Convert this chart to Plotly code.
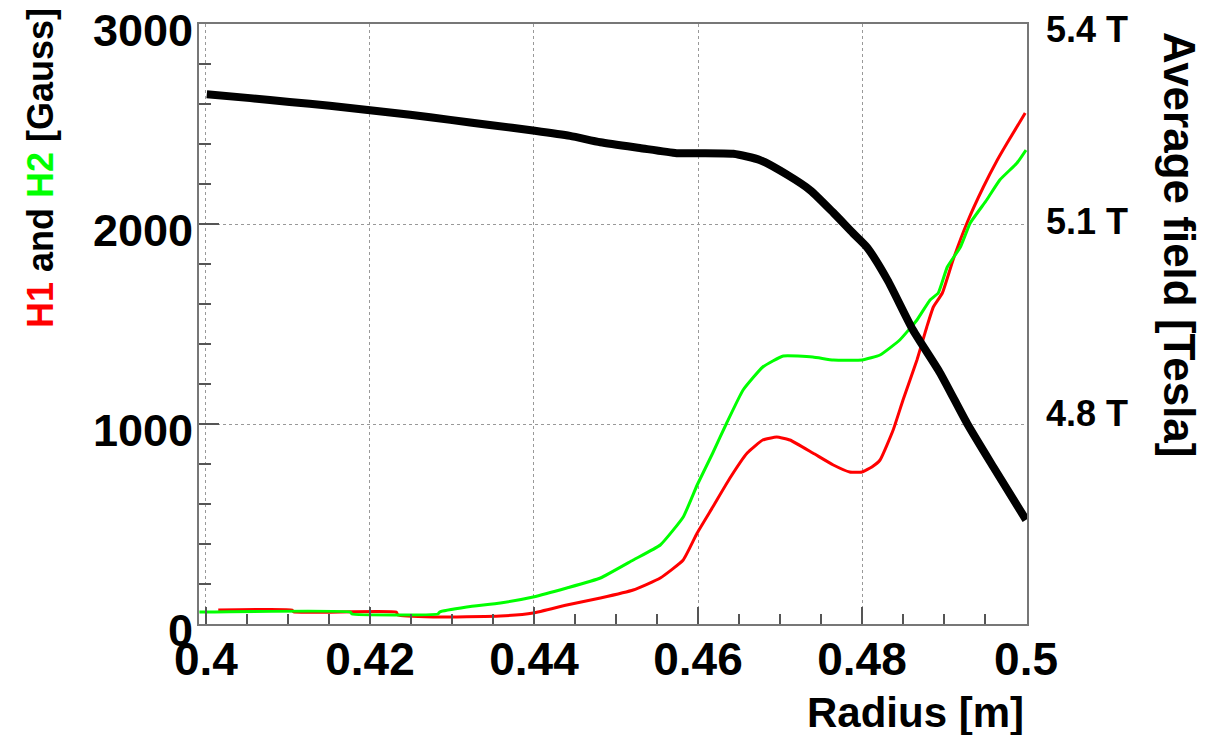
import plotly.graph_objects as go

# Average field (Tesla) vs radius
field_r = [0.4001, 0.4054, 0.4102, 0.4151, 0.4200, 0.4249, 0.4298, 0.4346, 0.4401,
           0.4444, 0.4481, 0.4529, 0.4574, 0.4599, 0.4643, 0.4676, 0.4709, 0.4737,
           0.4765, 0.4789, 0.4806, 0.4831, 0.4862, 0.4895, 0.4928, 0.4960, 0.5000]
field_t = [5.298, 5.292, 5.286, 5.280, 5.273, 5.266, 5.258, 5.250, 5.241,
           5.233, 5.223, 5.214, 5.206, 5.206, 5.205, 5.195, 5.172, 5.148,
           5.113, 5.081, 5.059, 5.008, 4.930, 4.863, 4.784, 4.716, 4.633]

# H2 (Gauss)
h2_r = [0.3992, 0.4176, 0.4178, 0.4283, 0.4285, 0.4318, 0.4359, 0.4399, 0.4440,
        0.4481, 0.4521, 0.4554, 0.4582, 0.4599, 0.4618, 0.4635, 0.4655, 0.4679,
        0.4704, 0.4740, 0.4765, 0.4800, 0.4822, 0.4846, 0.4867, 0.4883, 0.4893,
        0.4904, 0.4920, 0.4932, 0.4952, 0.4968, 0.4989, 0.5000]
h2_g = [60, 60, 50, 50, 60, 85, 105, 135, 180,
        230, 320, 395, 535, 695, 855, 1005, 1170, 1285,
        1340, 1335, 1320, 1320, 1345, 1420, 1520, 1620, 1655,
        1785, 1885, 2005, 2120, 2220, 2305, 2370]

# H1 (Gauss)
h1_r = [0.4015, 0.4105, 0.4107, 0.4232, 0.4234, 0.4277, 0.4359, 0.4399, 0.4440,
        0.4481, 0.4521, 0.4554, 0.4582, 0.4599, 0.4618, 0.4639, 0.4660, 0.4679,
        0.4696, 0.4712, 0.4740, 0.4765, 0.4785, 0.4800, 0.4812, 0.4822, 0.4838,
        0.4850, 0.4867, 0.4879, 0.4887, 0.4898, 0.4911, 0.4928, 0.4948, 0.4965,
        0.4977, 0.4999]
h1_g = [70, 70, 60, 60, 45, 35, 40, 55, 95,
        130, 170, 230, 320, 455, 585, 730, 855, 920,
        935, 920, 855, 795, 760, 760, 785, 820, 970,
        1120, 1320, 1485, 1585, 1655, 1820, 2005, 2185, 2320,
        2405, 2555]

x_ticks = [0.4, 0.42, 0.44, 0.46, 0.48, 0.5]
x_ticklabels = ["0.4", "0.42", "0.44", "0.46", "0.48", "0.5"]
y_ticks = [0, 1000, 2000, 3000]
t_ticks = [4.8, 5.1, 5.4]
t_ticklabels = ["4.8 T", "5.1 T", "5.4 T"]

FONT = "Liberation Sans, Arial, Helvetica, sans-serif"

fig = go.Figure()
fig.add_trace(go.Scatter(x=h1_r, y=h1_g, mode="lines",
                         line=dict(color="#ff0000", width=3, shape="spline", smoothing=0.4)))
fig.add_trace(go.Scatter(x=h2_r, y=h2_g, mode="lines",
                         line=dict(color="#00ff00", width=3, shape="spline", smoothing=0.4)))
fig.add_trace(go.Scatter(x=field_r, y=field_t, mode="lines", yaxis="y2",
                         line=dict(color="#000000", width=8, shape="spline", smoothing=0.6)))

fig.update_layout(
    width=1230, height=735,
    margin=dict(l=199, r=203, t=24, b=111, autoexpand=False),
    paper_bgcolor="white", plot_bgcolor="white",
    showlegend=False,
    font=dict(family=FONT, color="black"),
    xaxis=dict(
        range=[0.39915, 0.50012], tickvals=x_ticks, ticktext=x_ticklabels,
        tickfont=dict(size=46, weight="bold", family=FONT),
        ticks="inside", ticklen=17, tickwidth=2, tickcolor="#555555",
        minor=dict(dtick=0.005, tick0=0.4, ticks="inside", ticklen=10, tickwidth=2,
                   tickcolor="#555555", showgrid=False),
        showgrid=True, gridcolor="#999999", griddash="dot", gridwidth=1,
        showline=True, linecolor="#777777", linewidth=2, mirror=True,
        zeroline=False, ticklabelstandoff=-6, automargin=False,
        ticklabeloverflow="allow",
    ),
    yaxis=dict(
        range=[0, 3000], tickvals=y_ticks,
        tickfont=dict(size=45, weight="bold", family=FONT),
        ticks="inside", ticklen=20, tickwidth=2, tickcolor="#555555",
        minor=dict(dtick=200, tick0=0, ticks="inside", ticklen=12, tickwidth=2,
                   tickcolor="#555555", showgrid=False),
        showgrid=True, gridcolor="#999999", griddash="dot", gridwidth=1,
        showline=True, linecolor="#777777", linewidth=2, mirror=True,
        zeroline=False, ticklabelstandoff=-5, ticklabelshift=6, automargin=False,
        ticklabeloverflow="allow",
    ),
    yaxis2=dict(
        overlaying="y", side="right", range=[4.4703, 5.4078],
        tickvals=t_ticks, ticktext=t_ticklabels,
        tickfont=dict(size=36, weight="bold", family=FONT),
        showgrid=False, showline=False, ticks="", zeroline=False,
        ticklabelstandoff=18, automargin=False, ticklabeloverflow="allow",
    ),
)

fig.add_annotation(
    text="<span style='color:#ff0000'>H1</span> and <span style='color:#00ff00'>H2</span> [Gauss]",
    xref="paper", yref="paper", x=(40 - 199) / 828, y=(624 - 168) / 600,
    xanchor="center", yanchor="middle", textangle=-90, showarrow=False,
    font=dict(size=36, weight="bold", family=FONT, color="black"),
)
fig.add_annotation(
    text="Average field [Tesla]",
    xref="paper", yref="paper", x=(1180 - 199) / 828, y=(624 - 244) / 600,
    xanchor="center", yanchor="middle", textangle=90, showarrow=False,
    font=dict(size=44, weight="bold", family=FONT, color="black"),
)
fig.add_annotation(
    text="Radius [m]",
    xref="paper", yref="paper", x=(915 - 199) / 828, y=(624 - 712) / 600,
    xanchor="center", yanchor="middle", showarrow=False,
    font=dict(size=42, weight="bold", family=FONT, color="black"),
)

fig.write_html("out.html")
